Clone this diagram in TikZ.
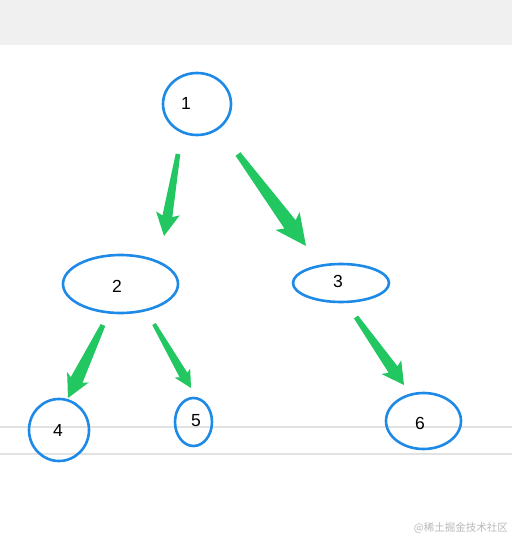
\documentclass[tikz,border=0pt]{standalone}
\usepackage{fontspec}
\setmainfont{Liberation Sans}
\newfontfamily\cjkfont{Noto Sans CJK SC}
\usetikzlibrary{shapes.geometric,calc}
\definecolor{nodeblue}{RGB}{30,138,232}
\definecolor{arrowgreen}{RGB}{34,199,98}
\definecolor{bandgray}{RGB}{240,240,240}
\definecolor{linegray}{RGB}{226,226,226}
\definecolor{markgray}{RGB}{185,185,185}
\tikzset{
  treenode/.style={ellipse, draw=nodeblue, line width=2.6pt, inner sep=0pt},
  label16/.style={font=\fontsize{17.5}{17.5}\selectfont, inner sep=0pt},
}
% start, tip, start half-width, shaft half-width at head, head half-width, head length
\newcommand{\taperarrow}[6]{%
  \path ($(#2)!#6!(#1)$) coordinate (hb);
  \path ($(#2)!#6*1.15!(#1)$) coordinate (hbb);
  \fill[arrowgreen] ($(#1)!#3!90:(#2)$) -- ($(hb)!#4!90:(#2)$) -- ($(hbb)!#5!90:(#2)$)
    -- (#2) -- ($(hbb)!#5!-90:(#2)$) -- ($(hb)!#4!-90:(#2)$) -- ($(#1)!#3!-90:(#2)$) -- cycle;
}
\begin{document}
\begin{tikzpicture}[x=1pt,y=-1pt]
  \useasboundingbox (0,0) rectangle (512,540);
  \fill[white] (0,0) rectangle (512,540);
  \fill[bandgray] (0,0) rectangle (512,45);
  \draw[linegray, line width=2pt] (0,427) -- (512,427);
  \draw[linegray, line width=2pt] (0,454) -- (512,454);

  \node[treenode, minimum width=68pt, minimum height=62pt] (n1) at (197,104) {};
  \node[label16] (t1) at (186,103) {1};
  \node[treenode, minimum width=115pt, minimum height=58pt] (n2) at (120.5,284) {};
  \node[label16] (t2) at (117,286) {2};
  \node[treenode, minimum width=96pt, minimum height=38pt] (n3) at (341,283) {};
  \node[label16] (t3) at (338,281) {3};
  \node[treenode, minimum width=60pt, minimum height=62pt] (n4) at (59,430) {};
  \node[label16] (t4) at (58,430) {4};
  \node[treenode, minimum width=37pt, minimum height=48pt] (n5) at (193.5,422) {};
  \node[label16] (t5) at (196,421) {5};
  \node[treenode, minimum width=75pt, minimum height=56pt] (n6) at (423.5,421) {};
  \node[label16] (t6) at (420,423) {6};

  \coordinate (a12s) at (178,154);
  \coordinate (a12e) at (164,236);
  \coordinate (a13s) at (238,154);
  \coordinate (a13e) at (306,246);
  \coordinate (a24s) at (103,325);
  \coordinate (a24e) at (68,398);
  \coordinate (a25s) at (154,324);
  \coordinate (a25e) at (191,388);
  \coordinate (a36s) at (356,317);
  \coordinate (a36e) at (404,385);

  \taperarrow{a12s}{a12e}{2.3pt}{5pt}{12pt}{20pt}
  \taperarrow{a13s}{a13e}{3pt}{7pt}{15pt}{27pt}
  \taperarrow{a24s}{a24e}{2.5pt}{6.5pt}{12pt}{20pt}
  \taperarrow{a25s}{a25e}{2pt}{4.5pt}{9pt}{15pt}
  \taperarrow{a36s}{a36e}{2.5pt}{5.5pt}{12pt}{19pt}

  \node[anchor=east, text=markgray, inner sep=0pt] (wm) at (508,528) {\cjkfont\fontsize{10.5}{10.5}\selectfont @稀土掘金技术社区};
\end{tikzpicture}
\end{document}
